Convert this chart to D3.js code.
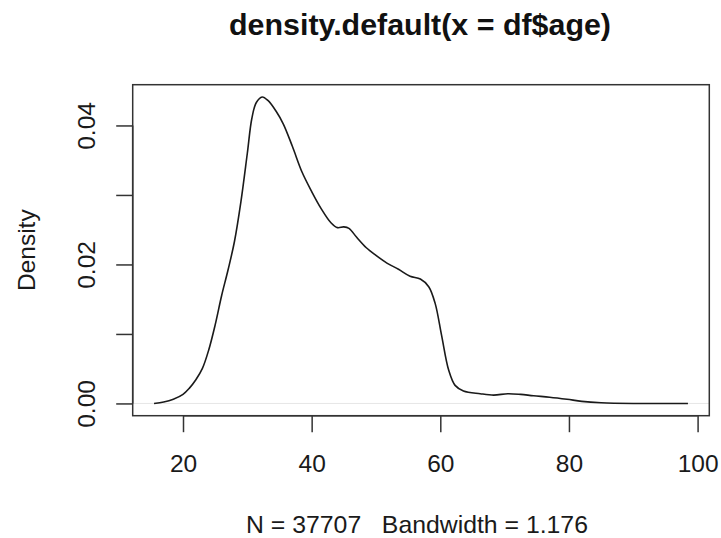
<!DOCTYPE html>
<html>
<head>
<meta charset="utf-8">
<script src="https://cdn.jsdelivr.net/npm/d3@7"></script>
<style>
  html, body { margin: 0; padding: 0; background: #fff; }
  svg { display: block; font-family: "Liberation Sans", Arial, Helvetica, sans-serif; }
</style>
</head>
<body>
<svg id="chart" width="721" height="538"></svg>
<script>
// ---- data ----
const ages = [15.5, 17.0, 18.5, 20.0, 21.0, 22.0, 23.0, 24.0, 25.0, 26.0, 27.0, 28.0, 29.0, 30.0, 30.7, 31.4, 32.3, 33.2, 34.5, 35.6, 37.0, 38.5, 40.0, 41.5, 43.0, 44.0, 45.0, 45.8, 47.0, 48.5, 50.0, 51.7, 53.5, 55.3, 56.9, 58.2, 59.2, 60.2, 61.3, 62.3, 63.6, 66.2, 68.3, 70.5, 72.5, 74.5, 77.0, 79.7, 82.0, 85.0, 90.0, 98.5];
const densities = [0.0000, 0.0002, 0.0006, 0.0013, 0.0022, 0.0034, 0.0050, 0.0077, 0.0113, 0.0155, 0.0192, 0.0233, 0.0290, 0.0360, 0.0410, 0.0433, 0.0441, 0.0436, 0.0420, 0.0402, 0.0370, 0.0333, 0.0305, 0.0280, 0.0260, 0.0253, 0.0254, 0.0252, 0.0239, 0.0224, 0.0213, 0.0202, 0.0193, 0.0183, 0.0179, 0.0168, 0.0144, 0.0098, 0.0048, 0.0026, 0.0018, 0.0014, 0.0012, 0.0014, 0.0013, 0.0011, 0.0009, 0.0006, 0.0003, 0.0001, 0.0000, 0.0000];
const xTicks = [20, 40, 60, 80, 100];
const yTicks = [0, 0.01, 0.02, 0.03, 0.04];
const yTickLabels = ["0.00", "", "0.02", "", "0.04"];
const titleText = "density.default(x = df$age)";
const subText = "N = 37707   Bandwidth = 1.176";
const yLabel = "Density";

// ---- layout ----
const box = { left: 132.7, right: 709.3, top: 84.7, bottom: 415.7 };
const svg = d3.select("#chart");

// R-style 4% range extension
const xr = d3.extent(ages), yr = [0, d3.max(densities)];
const xe = (xr[1] - xr[0]) * 0.04, ye = (yr[1] - yr[0]) * 0.04;
const x = d3.scaleLinear().domain([xr[0] - xe, xr[1] + xe]).range([box.left, box.right]);
const y = d3.scaleLinear().domain([yr[0] - ye, yr[1] + ye]).range([box.bottom, box.top]);

// zero line
svg.append("line")
  .attr("x1", box.left).attr("x2", box.right)
  .attr("y1", y(0)).attr("y2", y(0))
  .attr("stroke", "#e6e6e6").attr("stroke-width", 1);

// density curve
const line = d3.line()
  .x((d, i) => x(ages[i]))
  .y((d, i) => y(densities[i]))
  .curve(d3.curveCatmullRom.alpha(0.5));
svg.append("path")
  .datum(densities)
  .attr("d", line)
  .attr("fill", "none")
  .attr("stroke", "#1a1a1a")
  .attr("stroke-width", 1.6)
  .attr("stroke-linejoin", "round");

// x axis
const xAxis = d3.axisBottom(x).tickValues(xTicks).tickFormat(d3.format("d"))
  .tickSize(16.5).tickSizeOuter(0);
const gx = svg.append("g").attr("transform", `translate(0,${box.bottom})`).call(xAxis);
gx.select(".domain").remove();
gx.append("line").attr("x1", x(xTicks[0])).attr("x2", x(xTicks[xTicks.length - 1]))
  .attr("y1", 0).attr("y2", 0).attr("stroke", "#333").attr("stroke-width", 1.5);
gx.selectAll(".tick line").attr("stroke", "#333").attr("stroke-width", 1.5);
gx.selectAll(".tick text")
  .attr("y", 56).attr("dy", 0)
  .attr("fill", "#1a1a1a")
  .style("font-size", "24.5px")
  .style("font-family", "'Liberation Sans', Arial, sans-serif");

// y axis
const yAxis = d3.axisLeft(y).tickValues(yTicks).tickFormat((d, i) => yTickLabels[i])
  .tickSize(16.5).tickSizeOuter(0);
const gy = svg.append("g").attr("transform", `translate(${box.left},0)`).call(yAxis);
gy.select(".domain").remove();
gy.append("line").attr("y1", y(yTicks[0])).attr("y2", y(yTicks[yTicks.length - 1]))
  .attr("x1", 0).attr("x2", 0).attr("stroke", "#333").attr("stroke-width", 1.5);
gy.selectAll(".tick line").attr("stroke", "#333").attr("stroke-width", 1.5);
gy.selectAll(".tick text")
  .attr("x", 0).attr("y", 0).attr("dy", 0)
  .attr("text-anchor", "middle")
  .attr("transform", "translate(-37.7,0) rotate(-90)")
  .attr("fill", "#1a1a1a")
  .style("font-size", "24.5px")
  .style("font-family", "'Liberation Sans', Arial, sans-serif");

// box
svg.append("rect")
  .attr("x", box.left).attr("y", box.top)
  .attr("width", box.right - box.left).attr("height", box.bottom - box.top)
  .attr("fill", "none").attr("stroke", "#333").attr("stroke-width", 1.5);

// title
const cx = (box.left + box.right) / 2;
svg.append("text")
  .attr("x", cx - 1).attr("y", 35)
  .attr("text-anchor", "middle")
  .attr("fill", "#111")
  .style("font-size", "30.4px").style("font-weight", "bold")
  .text(titleText);

// sub label
svg.append("text")
  .attr("x", cx - 4).attr("y", 532.5)
  .attr("text-anchor", "middle")
  .attr("fill", "#1a1a1a")
  .style("font-size", "24.8px")
  .style("white-space", "pre")
  .attr("xml:space", "preserve")
  .text(subText);

// y label
svg.append("text")
  .attr("transform", `translate(35,${(box.top + box.bottom) / 2}) rotate(-90)`)
  .attr("text-anchor", "middle")
  .attr("fill", "#1a1a1a")
  .style("font-size", "24.5px")
  .text(yLabel);
</script>
</body>
</html>
